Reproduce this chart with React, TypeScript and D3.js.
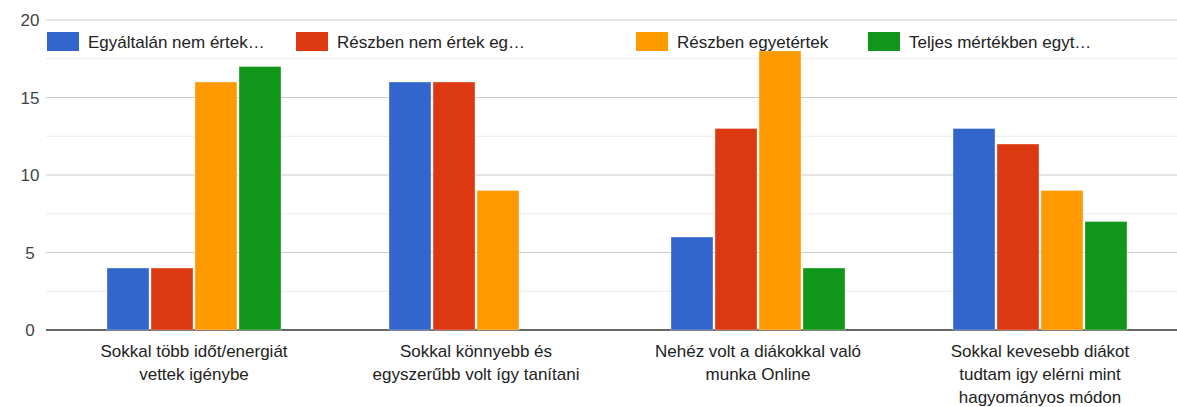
import * as d3 from "d3";

const categories = [
  ["Sokkal több időt/energiát", "vettek igénybe"],
  ["Sokkal könnyebb és", "egyszerűbb volt így tanítani"],
  ["Nehéz volt a diákokkal való", "munka Online"],
  ["Sokkal kevesebb diákot", "tudtam igy elérni mint", "hagyományos módon"],
];
const seriesNames = [
  "Egyáltalán nem értek…",
  "Részben nem értek eg…",
  "Részben egyetértek",
  "Teljes mértékben egyt…",
];
const seriesColors = ["#3366cc", "#dc3912", "#ff9900", "#109618"];
const values = [
  [4, 4, 16, 17],
  [16, 16, 9, 0],
  [6, 13, 18, 4],
  [13, 12, 9, 7],
];
const yTicks = [0, 5, 10, 15, 20];
const minorTicks = [2.5, 7.5, 12.5, 17.5];

const W = 1177;
const H = 407;
const font = "Arial, 'Liberation Sans', sans-serif";

export default function App() {
  const x0 = d3.scaleBand<number>().domain(d3.range(categories.length)).range([53, 1181]);
  const x1 = d3
    .scaleBand<number>()
    .domain(d3.range(seriesNames.length))
    .range([54, 228])
    .paddingInner(0.045);
  const y = d3.scaleLinear().domain([0, 20]).range([330, 20]);
  const legendX = [47, 296, 636, 868];

  return (
    <svg
      width={W}
      height={H}
      style={{ position: "absolute", left: 0, top: 0, background: "#fff" }}
      fontFamily={font}
    >
      {minorTicks.map((t) => (
        <line key={"m" + t} x1={46} x2={W} y1={y(t)} y2={y(t)} stroke="#ebebeb" strokeWidth={1} />
      ))}
      {yTicks.map((t) => (
        <g key={t}>
          <line x1={46} x2={W} y1={y(t)} y2={y(t)} stroke={t === 0 ? "#333" : "#cccccc"} strokeWidth={t === 0 ? 1.5 : 1} />
          <text x={30} y={y(t) + 6} textAnchor="middle" fontSize={17} fill="#444">
            {t}
          </text>
        </g>
      ))}
      {values.map((row, ci) => (
        <g key={ci} transform={`translate(${x0(ci)},0)`}>
          {row.map((v, si) =>
            v > 0 ? (
              <rect
                key={si}
                x={x1(si)}
                y={y(v)}
                width={x1.bandwidth()}
                height={y(0) - y(v)}
                fill={seriesColors[si]}
                stroke="#ffffff"
                strokeOpacity={0.35}
                strokeWidth={1}
              />
            ) : null
          )}
        </g>
      ))}
      <rect x={46} y={26} width={W - 46} height={25} fill="#fff" />
      {seriesNames.map((name, i) => (
        <g key={name}>
          <rect x={legendX[i]} y={32} width={32} height={19} fill={seriesColors[i]} />
          <text x={legendX[i] + 41} y={48} fontSize={17} fill="#222">
            {name}
          </text>
        </g>
      ))}
      {categories.map((lines, ci) => (
        <text
          key={ci}
          x={(x0(ci) as number) + x0.bandwidth() / 2}
          textAnchor="middle"
          fontSize={17}
          fill="#222"
        >
          {lines.map((l, li) => (
            <tspan key={li} x={(x0(ci) as number) + x0.bandwidth() / 2} y={357 + li * 23}>
              {l}
            </tspan>
          ))}
        </text>
      ))}
    </svg>
  );
}
